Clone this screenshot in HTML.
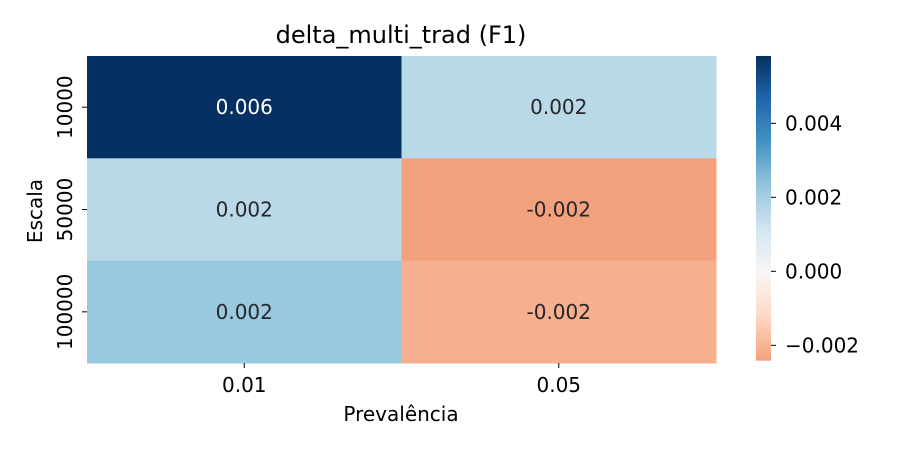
<!DOCTYPE html>
<html><head><meta charset="utf-8"><style>
body{margin:0;background:#fff;}
svg{display:block;font-family:"DejaVu Sans","Liberation Sans",sans-serif;}
</style></head><body>
<svg id="chart" width="900" height="450"></svg>
<script>
const xCategories = ["0.01","0.05"];
const yCategories = ["10000","50000","100000"];
const values = [[0.00582,0.0016],[0.0016,-0.0024],[0.0022,-0.0021]];
const labels = [["0.006","0.002"],["0.002","-0.002"],["0.002","-0.002"]];
const cbTicks = [0.004,0.002,0.0,-0.002];
const cbTickLabels = ["0.004","0.002","0.000","\u22120.002"];

const NS="http://www.w3.org/2000/svg";
const svg=document.getElementById('chart');
function el(t,a,p){const e=document.createElementNS(NS,t);for(const k in a)e.setAttribute(k,a[k]);(p||svg).appendChild(e);return e;}
const X0=87,X1=716,Y0=56,Y1=363;
const flat=values.flat();
const vmax=Math.max(...flat), vmin=Math.min(...flat);
const half=Math.max(Math.abs(vmax),Math.abs(vmin));
const stops=["#67001f","#b2182b","#d6604d","#f4a582","#fddbc7","#f7f7f7","#d1e5f0","#92c5de","#4393c3","#2166ac","#053061"];
function hex(h){return [1,3,5].map(i=>parseInt(h.substr(i,2),16));}
function color(v){let t=(v+half)/(2*half);t=Math.max(0,Math.min(1,t));const p=t*10,i=Math.min(9,Math.floor(p)),f=p-i;const a=hex(stops[i]),b=hex(stops[i+1]);return `rgb(${a.map((c,j)=>Math.round(c+(b[j]-c)*f)).join(',')})`;}
const cw=(X1-X0)/xCategories.length, ch=(Y1-Y0)/yCategories.length;
function xPos(i){return X0+i*cw;}
function yPos(i){return Y0+i*ch;}
values.forEach((row,r)=>row.forEach((v,c)=>{
  const rect=el('rect',{x:xPos(c),y:yPos(r),width:cw+0.5,height:ch+0.5,fill:color(v)});
  
  
  const tx=el('text',{x:xPos(c)+cw/2,y:yPos(r)+ch/2+7,'text-anchor':'middle','font-size':'20',fill:Math.abs(v)>0.004?'#fff':'#262626'});
  tx.textContent=labels[r][c];
  
  
}));
xCategories.forEach((c,i)=>{
  const x=xPos(i)+cw/2;
  el('line',{x1:x,x2:x,y1:Y1,y2:Y1+5,stroke:'#000','stroke-width':1});
  const t=el('text',{x:x,y:Y1+29,'text-anchor':'middle','font-size':'20'});t.textContent=c;
  
  
});
yCategories.forEach((c,i)=>{
  const y=yPos(i)+ch/2;
  el('line',{x1:X0-5,x2:X0,y1:y,y2:y,stroke:'#000','stroke-width':1});
  const t=el('text',{x:0,y:0,'text-anchor':'middle','font-size':'20',transform:`translate(${X0-15},${y}) rotate(-90)`});t.textContent=c;
  
  
});
const CX=756,CW=15;
function cbY(v){return 271.3-(v/0.002)*74;}
const N=120;
for(let k=0;k<N;k++){
  const v0=vmax-(vmax-vmin)*k/N, v1=vmax-(vmax-vmin)*(k+1)/N;
  const r=el('rect',{x:CX,y:cbY(v0),width:CW,height:cbY(v1)-cbY(v0)+0.6,fill:color((v0+v1)/2)});
  
  
}
cbTicks.forEach((v,i)=>{
  const y=cbY(v);
  el('line',{x1:CX+CW,x2:CX+CW+5,y1:y,y2:y,stroke:'#000','stroke-width':1});
  const t=el('text',{x:CX+CW+14,y:y+7,'font-size':'20'});t.textContent=cbTickLabels[i];
  
  
});
const title=el('text',{x:401,y:43,'text-anchor':'middle','font-size':'24'});title.textContent='delta_multi_trad (F1)';


const xt=el('text',{x:401,y:421,'text-anchor':'middle','font-size':'20'});xt.textContent='Prevalência';


const yt=el('text',{x:0,y:0,'text-anchor':'middle','font-size':'20',transform:'translate(42,211) rotate(-90)'});yt.textContent='Escala';


</script>
</body></html>
